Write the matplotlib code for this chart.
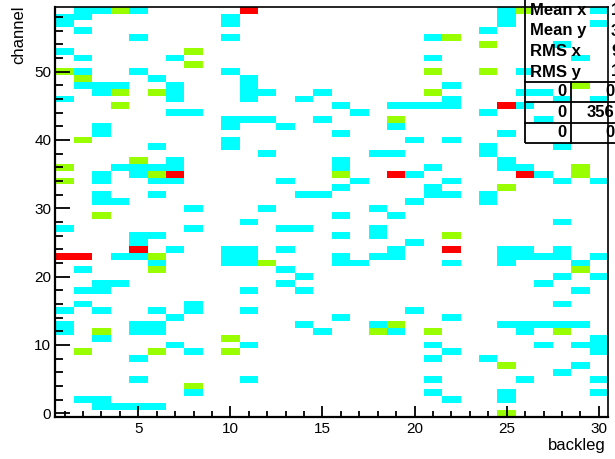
import numpy as np
import matplotlib
matplotlib.use("Agg")
import matplotlib.pyplot as plt
from matplotlib.colors import ListedColormap, BoundaryNorm
from matplotlib.patches import Rectangle
from matplotlib.lines import Line2D
from matplotlib.ticker import MultipleLocator

plt.rcParams['font.family'] = ['Liberation Sans', 'DejaVu Sans']

# bin contents: channel -> list of backleg bins
level1 = {
    59: [2, 3, 5, 25, 30], 58: [1, 2, 10, 25], 57: [1, 10, 25, 30], 56: [2, 24],
    55: [5, 10, 21], 54: [28], 53: [1], 52: [2, 7, 21, 29], 50: [2, 5, 10, 26],
    49: [6, 11], 48: [2, 3, 4, 7, 11, 22], 47: [3, 7, 11, 12, 15, 26, 27],
    46: [1, 7, 11, 14, 22, 28, 30], 45: [16, 19, 20, 21, 22, 26], 44: [7, 8, 17, 24],
    43: [10, 11, 12, 15, 27], 42: [3, 10, 13, 19], 41: [3, 16, 25], 40: [10, 20, 22],
    39: [6, 10, 24, 28], 38: [12, 18, 19, 24], 37: [7, 16, 25],
    36: [4, 5, 6, 7, 16, 21, 25, 26], 35: [3, 5, 20, 27],
    34: [3, 6, 7, 13, 17, 22, 28, 30], 33: [16, 21], 32: [3, 6, 14, 15, 21, 22, 24],
    31: [3, 4, 20, 24], 30: [8, 12, 18], 29: [16, 19], 28: [11, 28],
    27: [1, 8, 13, 14, 18], 26: [5, 6, 16, 18], 25: [5, 20],
    24: [7, 10, 11, 13, 19, 25, 26, 28],
    23: [4, 5, 10, 11, 16, 18, 19, 25, 26, 27, 28, 30],
    22: [6, 10, 11, 16, 17, 22, 25, 29], 21: [2, 13], 20: [14, 28, 30],
    19: [3, 4, 13, 27], 18: [2, 3, 11, 14, 29], 16: [2, 8, 28],
    15: [1, 3, 6, 8, 11, 20], 14: [7, 16, 22],
    13: [1, 5, 6, 14, 18, 25, 26, 27, 28, 29], 12: [1, 5, 6, 15, 19, 26],
    11: [3, 30], 10: [7, 11, 21, 27, 29, 30], 9: [8, 22, 30], 8: [5, 21, 24],
    7: [29], 6: [28], 5: [5, 11, 21, 26, 30], 3: [8, 21, 25, 30],
    2: [2, 3, 22, 25], 1: [3, 4, 5, 6],
}
level2 = {
    59: [4, 26], 55: [22], 54: [24], 53: [8], 51: [8], 50: [1, 21, 24], 49: [2],
    48: [29], 47: [4, 6, 21], 45: [4], 43: [19], 40: [2], 37: [5], 36: [1, 29],
    35: [6, 16, 29], 34: [1], 33: [25], 29: [3], 26: [22], 23: [6], 22: [12],
    21: [6, 29], 13: [19], 12: [3, 18, 21, 28], 11: [10], 9: [2, 6, 10], 7: [25],
    4: [8], 0: [25],
}
level3 = {59: [11], 45: [25], 35: [7, 19, 26], 24: [5, 22], 23: [1, 2]}

n_backleg = 30
n_channel = 60
stat_labels = ["Mean x", "Mean y", "RMS x", "RMS y"]
stat_values = ["14.96", "30.13", "9.082", "17.29"]
grid_values = [["0", "0"], ["0", "356"], ["0", "0"]]

W, H = 615, 459
fig = plt.figure(figsize=(W / 100, H / 100), dpi=100)


def fx(px):
    return px / W


def fy(py):
    return 1 - py / H


ax = fig.add_axes([fx(55.4), fy(416.7), fx(608) - fx(55.4), fy(6.7) - fy(416.7)])

z = np.full((n_channel, n_backleg), np.nan)
for val, table in [(1, level1), (2, level2), (3, level3)]:
    for ch, bins in table.items():
        for b in bins:
            z[ch, b - 1] = val

xedges = np.arange(n_backleg + 1) + 0.5
yedges = np.arange(n_channel + 1) - 0.5
cmap = ListedColormap(["#00ffff", "#99ff00", "#ff0000"])
norm = BoundaryNorm([0.5, 1.5, 2.5, 3.5], cmap.N)
ax.pcolormesh(xedges, yedges, np.ma.masked_invalid(z), cmap=cmap, norm=norm)

ax.set_xlim(0.5, 30.5)
ax.set_ylim(-0.5, 59.5)
ax.xaxis.set_major_locator(MultipleLocator(5))
ax.xaxis.set_minor_locator(MultipleLocator(1))
ax.yaxis.set_major_locator(MultipleLocator(10))
ax.yaxis.set_minor_locator(MultipleLocator(2))
ax.tick_params(axis='x', which='major', direction='in', length=8, width=1.3,
               labelsize=11, pad=3.5, top=False)
ax.tick_params(axis='x', which='minor', direction='in', length=4, width=1.3, top=False)
ax.tick_params(axis='y', which='major', direction='in', length=11, width=1.3,
               labelsize=11, pad=3, right=False)
ax.tick_params(axis='y', which='minor', direction='in', length=5.5, width=1.3, right=False)
ax.spines['left'].set_linewidth(1.6)
ax.spines['bottom'].set_linewidth(1.6)
ax.spines['top'].set_linewidth(1.2)
ax.spines['right'].set_linewidth(1.2)

fig.text(fx(18.5), fy(5), "channel", rotation=90, ha='center', va='top', fontsize=12)
fig.text(fx(606), fy(438), "backleg", ha='right', va='top', fontsize=12)

# stats box (runs off the right edge of the canvas)
box_left, box_bottom = 524.7, 142.7
fig.patches.append(Rectangle((fx(box_left), fy(box_bottom)), fx(720) - fx(box_left),
                             fy(-10) - fy(box_bottom), transform=fig.transFigure,
                             fill=False, edgecolor='black', linewidth=1.3))
for py in [81.7, 101.7, 122.7]:
    fig.lines.append(Line2D([fx(box_left), fx(720)], [fy(py), fy(py)],
                            transform=fig.transFigure, color='black', linewidth=1.3))
fig.lines.append(Line2D([fx(571.3), fx(571.3)], [fy(81.7), fy(box_bottom)],
                        transform=fig.transFigure, color='black', linewidth=1.3))
for i, (lab, val) in enumerate(zip(stat_labels, stat_values)):
    yc = 10.5 + 20.5 * i
    fig.text(fx(530), fy(yc), lab, ha='left', va='center', fontsize=12, fontweight='bold')
    fig.text(fx(611), fy(yc), val, ha='left', va='center', fontsize=12, fontweight='bold')
for i, row in enumerate(grid_values):
    yc = 92 + 20.3 * i
    fig.text(fx(567), fy(yc), row[0], ha='right', va='center', fontsize=12, fontweight='bold')
    fig.text(fx(614), fy(yc), row[1], ha='right', va='center', fontsize=12, fontweight='bold')

fig.savefig("out.png", dpi=100)
